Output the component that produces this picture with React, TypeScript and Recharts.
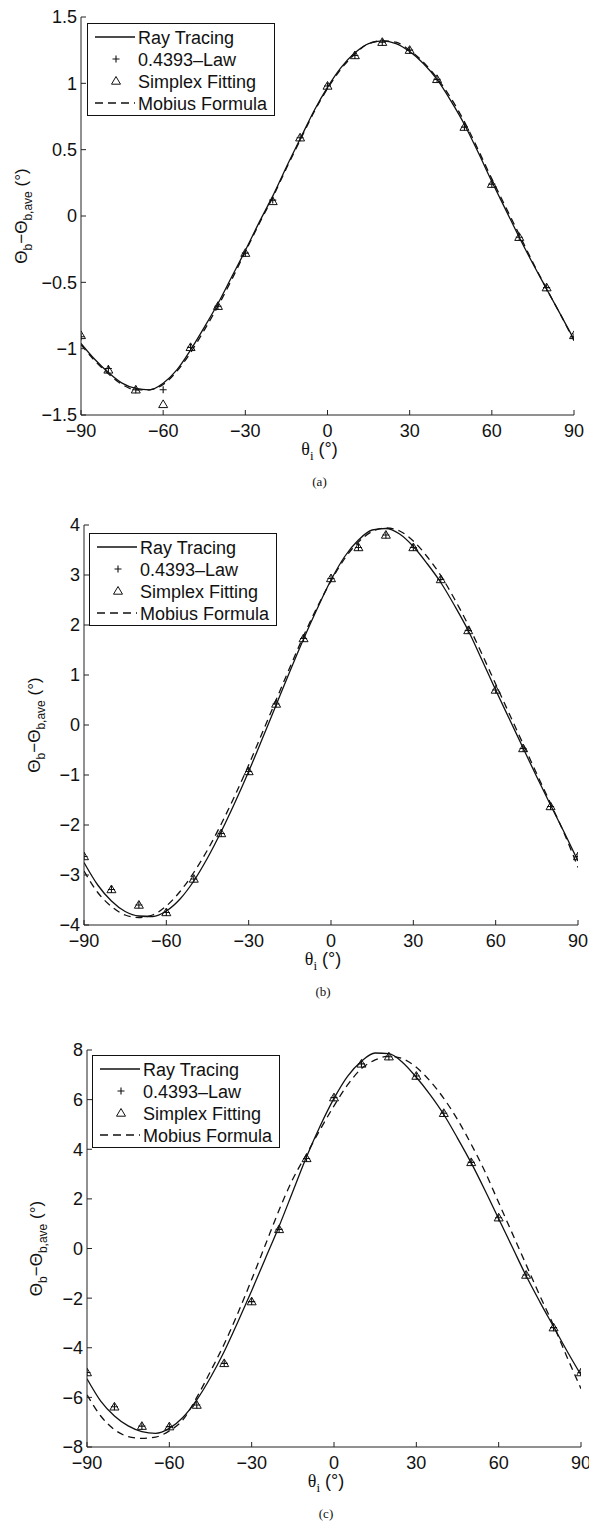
import React from 'react';
import { ComposedChart, Line, Scatter, XAxis, YAxis } from 'recharts';

// incidence angles (deg) for the continuous curves and for the markers
const angles = [
    -90, -85, -80, -75, -70, -65, -60, -55, -50, -45, -40, -35, -30, -25, -20, -15, -10, -5, 0,
    5, 10, 15, 20, 25, 30, 35, 40, 45, 50, 55, 60, 65, 70, 75, 80, 85, 90,
];
const markerAngles = [-90, -80, -70, -60, -50, -40, -30, -20, -10, 0, 10, 20, 30, 40, 50, 60, 70, 80, 90];
const xTicks = [-90, -60, -30, 0, 30, 60, 90];

// panel (a)
const rayA = [
    -0.96, -1.08, -1.18, -1.26, -1.30, -1.31, -1.26, -1.16, -1.01, -0.84, -0.66, -0.46, -0.26, -0.05, 0.15, 0.37, 0.58, 0.79, 0.97,
    1.12, 1.23, 1.30, 1.32, 1.30, 1.24, 1.15, 1.03, 0.87, 0.69, 0.48, 0.26, 0.05, -0.16, -0.36, -0.55, -0.74, -0.93,
];
const mobiusA = [
    -0.97, -1.09, -1.19, -1.27, -1.31, -1.31, -1.27, -1.17, -1.03, -0.86, -0.68, -0.48, -0.27, -0.06, 0.14, 0.36, 0.57, 0.78, 0.96,
    1.11, 1.22, 1.30, 1.32, 1.31, 1.25, 1.16, 1.04, 0.89, 0.71, 0.50, 0.28, 0.07, -0.14, -0.35, -0.55, -0.74, -0.94,
];
const lawA = [-0.91, -1.15, -1.31, -1.31, -0.99, -0.68, -0.28, 0.12, 0.59, 0.98, 1.21, 1.31, 1.25, 1.03, 0.67, 0.24, -0.16, -0.54, -0.91];
const simplexA = [-0.90, -1.16, -1.31, -1.42, -0.99, -0.68, -0.28, 0.11, 0.59, 0.98, 1.21, 1.31, 1.25, 1.03, 0.67, 0.24, -0.16, -0.54, -0.90];
const yTicksA = [-1.5, -1, -0.5, 0, 0.5, 1, 1.5];

// panel (b)
const rayB = [
    -2.75, -3.20, -3.52, -3.73, -3.82, -3.83, -3.72, -3.48, -3.12, -2.66, -2.13, -1.55, -0.93, -0.27, 0.40, 1.07, 1.72, 2.33, 2.90,
    3.37, 3.70, 3.90, 3.93, 3.82, 3.57, 3.23, 2.85, 2.39, 1.89, 1.30, 0.70, 0.12, -0.46, -1.04, -1.60, -2.15, -2.72,
];
const mobiusB = [
    -2.92, -3.35, -3.63, -3.80, -3.85, -3.80, -3.62, -3.33, -2.95, -2.50, -1.98, -1.41, -0.80, -0.15, 0.50, 1.15, 1.78, 2.36, 2.88,
    3.33, 3.66, 3.87, 3.94, 3.88, 3.68, 3.37, 2.99, 2.52, 2.00, 1.42, 0.82, 0.22, -0.38, -0.98, -1.57, -2.17, -2.85,
];
const lawB = [-2.63, -3.29, -3.60, -3.75, -3.08, -2.17, -0.93, 0.42, 1.73, 2.93, 3.55, 3.80, 3.55, 2.91, 1.89, 0.70, -0.47, -1.63, -2.63];
const simplexB = [-2.63, -3.29, -3.60, -3.75, -3.08, -2.17, -0.93, 0.42, 1.73, 2.93, 3.55, 3.80, 3.55, 2.91, 1.89, 0.70, -0.47, -1.63, -2.63];
const yTicksB = [-4, -3, -2, -1, 0, 1, 2, 3, 4];

// panel (c)
const rayC = [
    -5.25, -6.15, -6.75, -7.15, -7.38, -7.45, -7.25, -6.80, -6.10, -5.20, -4.15, -2.95, -1.70, -0.40, 0.90, 2.30, 3.70, 4.95, 6.05,
    6.95, 7.55, 7.88, 7.85, 7.50, 6.90, 6.20, 5.40, 4.45, 3.45, 2.35, 1.20, 0.05, -1.10, -2.15, -3.15, -4.15, -5.10,
];
const mobiusC = [
    -5.90, -6.75, -7.30, -7.58, -7.65, -7.60, -7.35, -6.90, -6.00, -4.95, -3.85, -2.60, -1.25, 0.15, 1.55, 2.80, 3.80, 4.80, 5.75,
    6.60, 7.25, 7.60, 7.75, 7.65, 7.30, 6.75, 6.05, 5.20, 4.20, 3.10, 1.85, 0.60, -0.65, -1.90, -3.10, -4.40, -5.65,
];
const lawC = [-5.0, -6.38, -7.16, -7.18, -6.31, -4.63, -2.14, 0.77, 3.63, 6.08, 7.44, 7.73, 6.95, 5.45, 3.47, 1.24, -1.07, -3.19, -5.0];
const simplexC = [-5.0, -6.38, -7.16, -7.18, -6.31, -4.63, -2.14, 0.77, 3.63, 6.08, 7.44, 7.73, 6.95, 5.45, 3.47, 1.24, -1.07, -3.19, -5.0];
const yTicksC = [-8, -6, -4, -2, 0, 2, 4, 6, 8];

const legendLabels = ['Ray Tracing', '0.4393\u2013Law', 'Simplex Fitting', 'Mobius Formula'];

const FONT = '"Liberation Sans", Arial, Helvetica, sans-serif';
const SERIF = '"Liberation Serif", "Times New Roman", serif';
const INK = '#111';
const W = 589;
const PLOT_TOP = 17;

const toPoints = (xs: number[], ys: number[]) => xs.map((x, i) => ({ x, y: ys[i] }));
const fmt = (v: number) => String(v).replace('-', '\u2212');
const blank = () => '';

const Triangle = (props: any) => {
    const { cx, cy } = props;
    if (cx == null || cy == null) return null;
    return (
        <path
            d={`M${cx},${cy - 4.5} L${cx + 4.5},${cy + 3.2} L${cx - 4.5},${cy + 3.2} Z`}
            fill="none"
            stroke={INK}
            strokeWidth={1}
        />
    );
};

const Plus = (props: any) => {
    const { cx, cy } = props;
    if (cx == null || cy == null) return null;
    return <path d={`M${cx - 3.5},${cy} H${cx + 3.5} M${cx},${cy - 3.5} V${cy + 3.5}`} stroke={INK} strokeWidth={1.1} />;
};

interface PanelConfig {
    top: number;
    height: number;
    left: number;
    right: number;
    plotH: number;
    domain: [number, number];
    yTicks: number[];
    ray: number[];
    mobius: number[];
    law: number[];
    simplex: number[];
    caption: string;
    yLabelX: number;
    legendX: number;
    legendY: number;
}

const panels: PanelConfig[] = [
    {
        top: 0, height: 505, left: 81, right: 574, plotH: 398, domain: [-1.5, 1.5], yTicks: yTicksA,
        ray: rayA, mobius: mobiusA, law: lawA, simplex: simplexA, caption: '(a)', yLabelX: 27, legendX: 87, legendY: 23,
    },
    {
        top: 508, height: 500, left: 84, right: 578, plotH: 400, domain: [-4, 4], yTicks: yTicksB,
        ray: rayB, mobius: mobiusB, law: lawB, simplex: simplexB, caption: '(b)', yLabelX: 40, legendX: 89, legendY: 25,
    },
    {
        top: 1033, height: 488, left: 87, right: 581, plotH: 397, domain: [-8, 8], yTicks: yTicksC,
        ray: rayC, mobius: mobiusC, law: lawC, simplex: simplexC, caption: '(c)', yLabelX: 42, legendX: 92, legendY: 22,
    },
];

const LegendBox = ({ x, y }: { x: number; y: number }) => {
    const rows = [14, 36, 58, 80];
    return (
        <svg style={{ position: 'absolute', left: x, top: y, pointerEvents: 'none' }} width={190} height={95}>
            <rect x={0.5} y={0.5} width={187} height={92} fill="#fff" stroke={INK} strokeWidth={1} />
            <line x1={8} x2={48} y1={rows[0]} y2={rows[0]} stroke={INK} strokeWidth={1.3} />
            <Plus cx={29} cy={rows[1]} />
            <Triangle cx={29} cy={rows[2]} />
            <line x1={8} x2={48} y1={rows[3]} y2={rows[3]} stroke={INK} strokeWidth={1.3} strokeDasharray="8 5" />
            {legendLabels.map((t, i) => (
                <text key={t} x={51} y={rows[i] + 6.5} fontSize={18} fontFamily={FONT} fill={INK}>
                    {t}
                </text>
            ))}
        </svg>
    );
};

function Panel({ cfg }: { cfg: PanelConfig }) {
    const rayPts = toPoints(angles, cfg.ray);
    const mobiusPts = toPoints(angles, cfg.mobius);
    const lawPts = toPoints(markerAngles, cfg.law);
    const simplexPts = toPoints(markerAngles, cfg.simplex);

    const plotBottom = PLOT_TOP + cfg.plotH;
    const midX = (cfg.left + cfg.right) / 2 - 8;
    const midY = PLOT_TOP + cfg.plotH / 2;
    const tickStyle = { fontSize: 18, fill: INK, fontFamily: FONT };
    const axisStroke = { stroke: '#222', strokeWidth: 1 };

    const xTitle = () => (
        <g>
            <text x={midX} y={plotBottom + 40} textAnchor="middle" fontSize={18} fill={INK} fontFamily={FONT}>
                <tspan fontFamily={SERIF}>θ</tspan>
                <tspan fontFamily={SERIF} fontSize={13} dy={5}>i</tspan>
                <tspan dy={-5}> (°)</tspan>
            </text>
            <text x={midX} y={plotBottom + 71} textAnchor="middle" fontSize={13} fill={INK} fontFamily={SERIF}>
                {cfg.caption}
            </text>
        </g>
    );

    const yTitle = () => (
        <text
            x={cfg.yLabelX}
            y={midY}
            transform={`rotate(-90, ${cfg.yLabelX}, ${midY})`}
            textAnchor="middle"
            fontSize={17}
            fill={INK}
            fontFamily={FONT}
        >
            <tspan>Θ</tspan>
            <tspan fontSize={12} dy={5}>b</tspan>
            <tspan dy={-5}>−Θ</tspan>
            <tspan fontSize={12} dy={5}>b,ave</tspan>
            <tspan dy={-5}> (°)</tspan>
        </text>
    );

    return (
        <div style={{ position: 'absolute', left: 0, top: cfg.top, width: W, height: cfg.height }}>
            <ComposedChart
                width={W}
                height={cfg.height}
                margin={{ top: PLOT_TOP, right: W - cfg.right, left: 0, bottom: 0 }}
            >
                <XAxis
                    xAxisId="b"
                    type="number"
                    dataKey="x"
                    domain={[-90, 90]}
                    ticks={xTicks}
                    interval={0}
                    allowDataOverflow
                    height={cfg.height - PLOT_TOP - cfg.plotH}
                    tickSize={-5}
                    tickMargin={14}
                    tick={tickStyle}
                    tickFormatter={fmt}
                    axisLine={axisStroke}
                    tickLine={axisStroke}
                    label={{ content: xTitle }}
                />
                <XAxis
                    xAxisId="t"
                    orientation="top"
                    type="number"
                    dataKey="x"
                    domain={[-90, 90]}
                    ticks={xTicks}
                    interval={0}
                    allowDataOverflow
                    height={0}
                    tickSize={-5}
                    tickFormatter={blank}
                    axisLine={axisStroke}
                    tickLine={axisStroke}
                />
                <YAxis
                    yAxisId="l"
                    type="number"
                    dataKey="y"
                    domain={cfg.domain}
                    ticks={cfg.yTicks}
                    interval={0}
                    allowDataOverflow
                    width={cfg.left}
                    tickSize={-5}
                    tickMargin={9}
                    tick={tickStyle}
                    tickFormatter={fmt}
                    axisLine={axisStroke}
                    tickLine={axisStroke}
                    label={{ content: yTitle }}
                />
                <YAxis
                    yAxisId="r"
                    orientation="right"
                    type="number"
                    dataKey="y"
                    domain={cfg.domain}
                    ticks={cfg.yTicks}
                    interval={0}
                    allowDataOverflow
                    width={0}
                    tickSize={-5}
                    tickFormatter={blank}
                    axisLine={axisStroke}
                    tickLine={axisStroke}
                />
                {/* invisible copy so the top/right frame axes have a series */}
                <Line
                    xAxisId="t"
                    yAxisId="r"
                    data={rayPts}
                    dataKey="y"
                    stroke="none"
                    dot={false}
                    activeDot={false}
                    isAnimationActive={false}
                />
                <Line
                    xAxisId="b"
                    yAxisId="l"
                    data={mobiusPts}
                    dataKey="y"
                    type="monotone"
                    stroke={INK}
                    strokeWidth={1.3}
                    strokeDasharray="7 5"
                    dot={false}
                    activeDot={false}
                    isAnimationActive={false}
                />
                <Line
                    xAxisId="b"
                    yAxisId="l"
                    data={rayPts}
                    dataKey="y"
                    type="monotone"
                    stroke={INK}
                    strokeWidth={1.3}
                    dot={false}
                    activeDot={false}
                    isAnimationActive={false}
                />
                <Scatter
                    xAxisId="b"
                    yAxisId="l"
                    data={lawPts}
                    dataKey="y"
                    shape={Plus}
                    isAnimationActive={false}
                />
                <Scatter
                    xAxisId="b"
                    yAxisId="l"
                    data={simplexPts}
                    dataKey="y"
                    shape={Triangle}
                    isAnimationActive={false}
                />
            </ComposedChart>
            <LegendBox x={cfg.legendX} y={cfg.legendY} />
        </div>
    );
}

export default function App() {
    return (
        <div style={{ position: 'absolute', left: 0, top: 0, width: W, height: 1521, background: '#fff' }}>
            {panels.map(p => (
                <Panel key={p.caption} cfg={p} />
            ))}
        </div>
    );
}
